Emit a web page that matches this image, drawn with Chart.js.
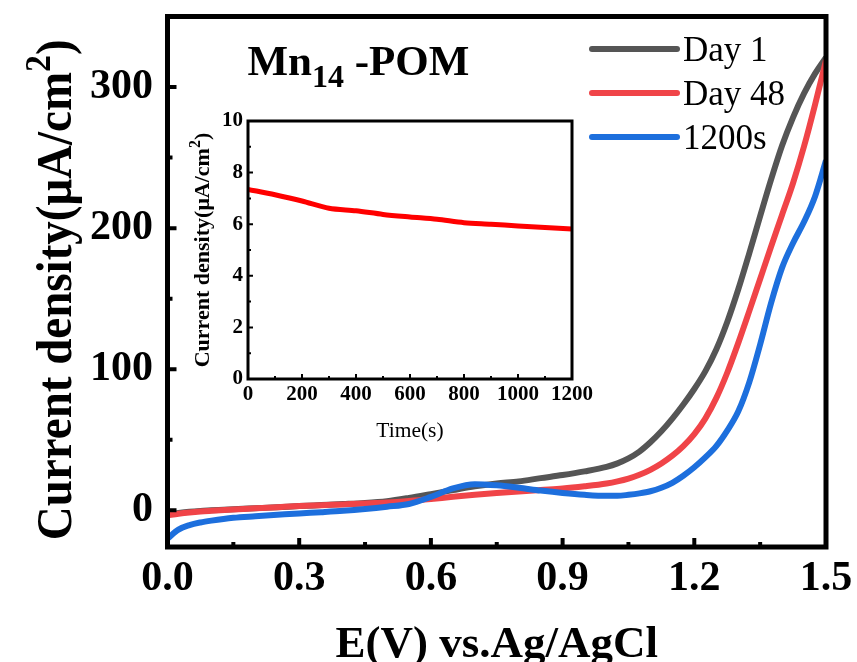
<!DOCTYPE html>
<html>
<head>
<meta charset="utf-8">
<script src="https://cdn.jsdelivr.net/npm/chart.js@4.4.1/dist/chart.umd.min.js"></script>
<style>
  html, body { margin: 0; padding: 0; background: #fff; }
  #wrap { position: relative; width: 857px; height: 662px; }
  #main { position: absolute; left: 0; top: 0; }
  #inset { position: absolute; left: 180px; top: 100px; }
</style>
</head>
<body>
<div id="wrap">
  <canvas id="main" width="857" height="662"></canvas>
  <canvas id="inset" width="420" height="345"></canvas>
</div>
<script>
// --- LSV curves (main plot) ---
const potential = [0, 0.025, 0.05, 0.075, 0.1, 0.15, 0.2, 0.25, 0.3, 0.35, 0.4, 0.45, 0.5, 0.55, 0.6, 0.65, 0.7, 0.75,
                   0.8, 0.85, 0.9, 0.95, 1.0, 1.025, 1.05, 1.075, 1.1, 1.125, 1.15, 1.175, 1.2, 1.225,
                   1.25, 1.275, 1.3, 1.325, 1.35, 1.375, 1.4, 1.425, 1.45, 1.475, 1.5];
const day1 = [-3, -1.9, -1, -0.4, 0, 0.8, 1.5, 2.2, 3, 3.7, 4.4, 5.2, 6.5, 8.8, 11.5, 14.3, 17, 19,
              20.5, 22.8, 25, 27.6, 30.8, 33.3, 36.8, 41.6, 48.2, 56, 65, 75, 86, 98.5,
              114, 133.5, 156.5, 182, 208.5, 234.5, 258.5, 278.5, 295.5, 309.5, 321];
const day48 = [-3.5, -2.4, -1.5, -0.8, -0.3, 0.6, 1.4, 2.2, 3, 3.6, 4.2, 4.8, 5.5, 6.6, 8, 9.6, 11, 12.2,
               13.3, 14.4, 15.4, 17, 19, 20.5, 22.5, 25.2, 28.7, 33.2, 38.7, 45.5, 54, 65,
               79.5, 97.5, 118.5, 141, 164, 187, 209.5, 232, 258, 287.5, 319];
const after1200s = [-20, -13.7, -10.5, -8.6, -7.3, -5.3, -4.2, -3.2, -2.2, -1.3, -0.3, 1, 2.6, 4.5, 9.5, 15.5, 18.5, 17.7,
                    16, 14, 12.3, 11, 10.3, 10.3, 11, 12, 13.5, 16, 19.5, 24.5, 30.5, 37.5,
                    45.5, 56.5, 70, 90.5, 117.5, 147, 172, 189.5, 204.5, 222.5, 248];
const seriesNames = ['Day 1', 'Day 48', '1200s'];
const seriesColors = ['#555555', '#f04448', '#1d6fdd'];
const xTickVals = [0, 0.3, 0.6, 0.9, 1.2, 1.5];
const yTickVals = [0, 100, 200, 300];

// --- i-t curve (inset) ---
const timeSec = [0, 100, 200, 300, 400, 500, 600, 700, 800, 900, 1000, 1100, 1200];
const itDensity = [7.35, 7.14, 6.9, 6.62, 6.52, 6.38, 6.28, 6.19, 6.06, 6.0, 5.93, 5.87, 5.81];
const insetXTicks = [0, 200, 400, 600, 800, 1000, 1200];
const insetYTicks = [0, 2, 4, 6, 8, 10];

const serif = '"Liberation Serif", "Times New Roman", serif';
const pts = (xs, ys) => xs.map((x, i) => ({ x: x, y: ys[i] }));

// text made of pieces (for sub/superscripts): [text, size, dy, bold]
function drawRich(ctx, parts, x, y, align) {
  const w = parts.map(p => {
    ctx.font = (p[3] === false ? '' : 'bold ') + p[1] + 'px ' + serif;
    return ctx.measureText(p[0]).width;
  });
  const total = w.reduce((a, b) => a + b, 0);
  let cur = align === 'center' ? x - total / 2 : x;
  parts.forEach((p, i) => {
    ctx.font = (p[3] === false ? '' : 'bold ') + p[1] + 'px ' + serif;
    ctx.fillText(p[0], cur, y + p[2]);
    cur += w[i];
  });
}

// box round the plot and inward ticks
function axesFrame(o) {
  return {
    id: 'axesFrame',
    afterDatasetsDraw(chart) {
      const { ctx, chartArea: a, scales: { x, y } } = chart;
      const mid = v => v.slice(1).map((t, i) => (t + v[i]) / 2);
      ctx.save();
      ctx.strokeStyle = '#000';
      ctx.lineWidth = o.tickWidth;
      ctx.beginPath();
      const xt = (v, len) => { const p = x.getPixelForValue(v); ctx.moveTo(p, a.bottom); ctx.lineTo(p, a.bottom - len); };
      const yt = (v, len) => { const p = y.getPixelForValue(v); ctx.moveTo(a.left, p); ctx.lineTo(a.left + len, p); };
      o.xMajor.forEach(v => xt(v, o.major));
      mid(o.xMajor).forEach(v => xt(v, o.minor));
      o.yMajor.forEach(v => yt(v, o.major));
      mid(o.yMajor).forEach(v => yt(v, o.minor));
      ctx.stroke();
      ctx.lineWidth = o.frame;
      ctx.strokeRect(a.left, a.top, a.right - a.left, a.bottom - a.top);
      ctx.restore();
    }
  };
}

const mainText = {
  id: 'mainText',
  afterDraw(chart) {
    const { ctx, chartArea: a } = chart;
    ctx.save();
    ctx.fillStyle = '#000';
    ctx.textBaseline = 'alphabetic';
    // plot label
    drawRich(ctx, [['Mn', 43, 0], ['14', 32, 12], [' -POM', 43, 0]], a.left + 80, 75, 'left');
    // x title
    drawRich(ctx, [['E(V) vs.Ag/AgCl', 45, 0]], (a.left + a.right) / 2, 657, 'center');
    // y title
    ctx.save();
    ctx.translate(71, (a.top + a.bottom) / 2 + 8);
    ctx.rotate(-Math.PI / 2);
    ctx.scale(0.94, 1);
    drawRich(ctx, [['Current density(\u03bcA/cm', 50, 0], ['2', 36, -21], [')', 50, 0]], 0, 0, 'center');
    ctx.restore();
    // legend
    chart.data.datasets.forEach((ds, i) => {
      const ly = 49 + i * 44;
      ctx.strokeStyle = ds.borderColor;
      ctx.lineWidth = 6;
      ctx.lineCap = 'round';
      ctx.beginPath();
      ctx.moveTo(a.right - 234, ly);
      ctx.lineTo(a.right - 149, ly);
      ctx.stroke();
      ctx.font = '35px ' + serif;
      ctx.fillText(ds.label, a.right - 143, ly + 12);
    });
    ctx.restore();
  }
};

new Chart(document.getElementById('main'), {
  type: 'line',
  data: {
    datasets: [
      { label: seriesNames[0], data: pts(potential, day1), borderColor: seriesColors[0], order: 3 },
      { label: seriesNames[1], data: pts(potential, day48), borderColor: seriesColors[1], order: 2 },
      { label: seriesNames[2], data: pts(potential, after1200s), borderColor: seriesColors[2], order: 1 }
    ]
  },
  options: {
    responsive: false,
    animation: false,
    layout: { padding: { top: 16.5, right: 31, left: 0, bottom: 0 } },
    datasets: { line: { borderWidth: 6, pointRadius: 0, cubicInterpolationMode: 'monotone', borderJoinStyle: 'round', fill: false } },
    plugins: { legend: { display: false }, tooltip: { enabled: false } },
    scales: {
      x: {
        type: 'linear', min: 0, max: 1.5,
        grid: { display: false, drawTicks: false }, border: { display: false },
        ticks: { padding: 7, color: '#000', font: { family: serif, size: 42, weight: 'bold' }, callback: v => v.toFixed(1) },
        afterBuildTicks: s => { s.ticks = xTickVals.map(v => ({ value: v })); },
        afterFit: s => { s.height = 115; s.paddingLeft = 0; s.paddingRight = 0; }
      },
      y: {
        type: 'linear', min: -26, max: 350,
        grid: { display: false, drawTicks: false }, border: { display: false },
        ticks: { padding: 14.5, color: '#000', font: { family: serif, size: 42, weight: 'bold' } },
        afterBuildTicks: s => { s.ticks = yTickVals.map(v => ({ value: v })); },
        afterFit: s => { s.width = 167.5; s.paddingTop = 0; s.paddingBottom = 0; }
      }
    }
  },
  plugins: [axesFrame({ xMajor: xTickVals, yMajor: yTickVals, major: 9, minor: 5, tickWidth: 4, frame: 5 }), mainText]
});

const insetText = {
  id: 'insetText',
  afterDraw(chart) {
    const { ctx, chartArea: a } = chart;
    ctx.save();
    ctx.fillStyle = '#000';
    ctx.textBaseline = 'alphabetic';
    drawRich(ctx, [['Time(s)', 21.5, 0, false]], (a.left + a.right) / 2, 337, 'center');
    ctx.translate(29, (a.top + a.bottom) / 2);
    ctx.rotate(-Math.PI / 2);
    drawRich(ctx, [['Current density(\u03bcA/cm', 22, 0], ['2', 16, -9], [')', 22, 0]], 0, 0, 'center');
    ctx.restore();
  }
};

new Chart(document.getElementById('inset'), {
  type: 'line',
  data: { datasets: [{ label: 'i-t', data: pts(timeSec, itDensity), borderColor: '#ff0000' }] },
  options: {
    responsive: false,
    animation: false,
    layout: { padding: { top: 21, right: 28, left: 0, bottom: 0 } },
    datasets: { line: { borderWidth: 5, pointRadius: 0, tension: 0.3, fill: false } },
    plugins: { legend: { display: false }, tooltip: { enabled: false } },
    scales: {
      x: {
        type: 'linear', min: 0, max: 1200,
        grid: { display: false, drawTicks: false }, border: { display: false },
        ticks: { padding: 3, color: '#000', font: { family: serif, size: 21, weight: 'bold' }, callback: v => String(v) },
        afterBuildTicks: s => { s.ticks = insetXTicks.map(v => ({ value: v })); },
        afterFit: s => { s.height = 66; s.paddingLeft = 0; s.paddingRight = 0; }
      },
      y: {
        type: 'linear', min: 0, max: 10,
        grid: { display: false, drawTicks: false }, border: { display: false },
        ticks: { padding: 5, color: '#000', font: { family: serif, size: 21, weight: 'bold' }, callback: v => String(v) },
        afterBuildTicks: s => { s.ticks = insetYTicks.map(v => ({ value: v })); },
        afterFit: s => { s.width = 68; s.paddingTop = 0; s.paddingBottom = 0; }
      }
    }
  },
  plugins: [axesFrame({ xMajor: insetXTicks, yMajor: insetYTicks, major: 5, minor: 3, tickWidth: 2, frame: 3 }), insetText]
});
</script>
</body>
</html>
